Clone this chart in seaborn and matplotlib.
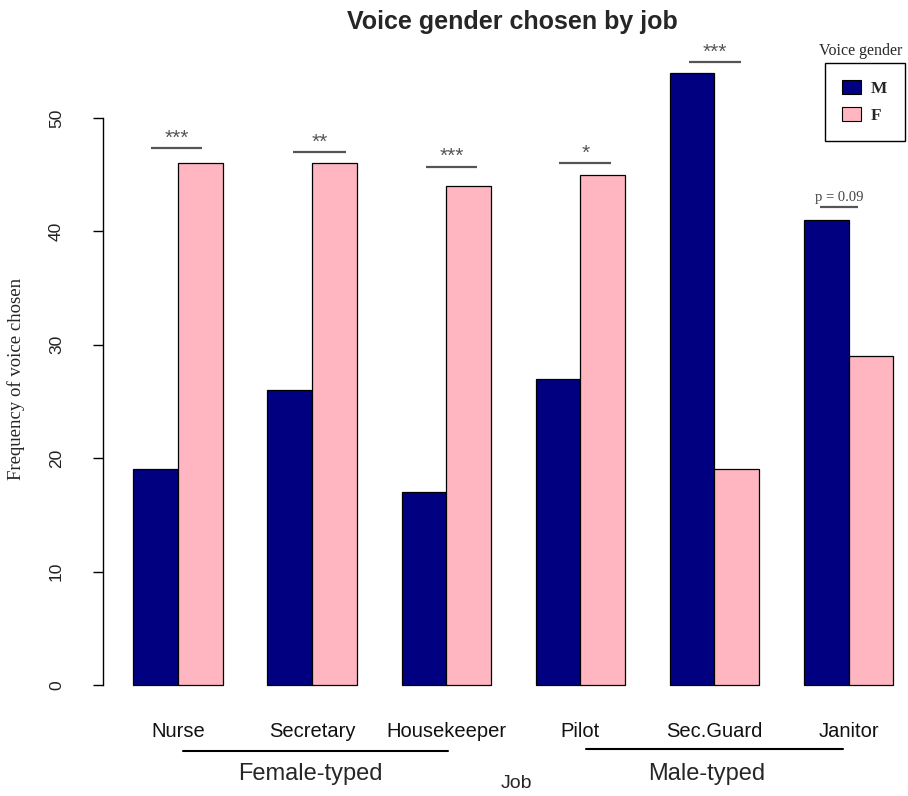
import matplotlib
matplotlib.use("Agg")
import matplotlib.pyplot as plt
from matplotlib.patches import Patch
import seaborn as sns
import pandas as pd

# ---- data ----
jobs = ["Nurse", "Secretary", "Housekeeper", "Pilot", "Sec.Guard", "Janitor"]
male_counts = [19, 26, 17, 27, 54, 41]
female_counts = [46, 46, 44, 45, 19, 29]
genders = ["M", "F"]
sig_labels = ["***", "**", "***", "*", "***", "p = 0.09"]
group_labels = ["Female-typed", "Male-typed"]
y_ticks = [0, 10, 20, 30, 40, 50]

df = pd.DataFrame({
    "job": jobs * 2,
    "gender": ["M"] * len(jobs) + ["F"] * len(jobs),
    "count": male_counts + female_counts,
})

navy = "#000080"
pink = "#FFB6C1"
palette = {"M": navy, "F": pink}

sns.set_style("white")
fig = plt.figure(figsize=(9.08, 7.96), dpi=100)
ax = fig.add_axes([103 / 908, 1 - 709.5 / 796, 805 / 908, 661.5 / 796])

sns.barplot(data=df, x="job", y="count", hue="gender", order=jobs,
            hue_order=genders, palette=palette, width=2 / 3, dodge=True,
            edgecolor="black", linewidth=0.9, saturation=1, legend=False, ax=ax)

ax.set_xlim(-0.56, 5.443)
ax.set_ylim(-2.16, 56.16)
for s in ["top", "right", "bottom"]:
    ax.spines[s].set_visible(False)
ax.spines["left"].set_bounds(0, 50)
ax.spines["left"].set_color("black")
ax.spines["left"].set_linewidth(1.0)
ax.set_yticks(y_ticks)
ax.set_yticklabels([str(v) for v in y_ticks], rotation=90, va="center",
                   family="Liberation Sans", fontsize=12.5, color="#222222")
ax.tick_params(axis="y", left=True, length=7, width=1.0, pad=21, color="black")
ax.tick_params(axis="x", bottom=False, length=0, pad=9)
ax.set_xticks(range(len(jobs)))
ax.set_xticklabels(jobs, family="Liberation Sans", fontsize=14.5, color="#111111")
ax.set_xlabel("")
ax.set_ylabel("Frequency of voice chosen", family="Liberation Serif", fontsize=13.5)
ax.yaxis.set_label_coords(-0.097, 0.5)

# significance markers
sig_offsets = [-0.01, 0.057, 0.042, 0.037, 0.006, -0.07]
sig_halfw = [0.19, 0.197, 0.19, 0.194, 0.194, 0.142]
sig_gap = [1.3, 1.0, 1.7, 1.0, 0.9, 1.1]
for i, lab in enumerate(sig_labels):
    top = max(male_counts[i], female_counts[i]) + sig_gap[i]
    c = i + sig_offsets[i]
    ax.plot([c - sig_halfw[i], c + sig_halfw[i]], [top, top], color="#555555",
            lw=1.6, clip_on=False, solid_capstyle="butt")
    if lab.startswith("p"):
        ax.text(c, top + 0.35, lab, ha="center", va="bottom",
                family="Liberation Serif", fontsize=10.5, color="#444444")
    else:
        ax.text(c, top + 0.05, lab, ha="center", va="bottom",
                family="Liberation Sans", fontsize=15, color="#555555")

# group brackets under the x labels
for g, (a, b) in enumerate([(0, 2), (3, 5)]):
    yl = -5.82 if g == 0 else -5.64
    ax.plot([a + 0.04, b + 0.016 - (0.054 if g else 0)], [yl, yl], color="black",
            lw=1.5, clip_on=False)
    ax.text((a + b) / 2 - 0.01 - (0.05 if g else 0), -7.85, group_labels[g],
            ha="center", va="center", family="Liberation Sans", fontsize=17,
            clip_on=False)
ax.text(2.52, -8.7, "Job", ha="center", va="center", family="Liberation Sans",
        fontsize=14, clip_on=False)

# title
fig.text(512 / 908, 1 - 22 / 796, "Voice gender chosen by job", ha="center",
         va="center", family="Liberation Sans", fontweight="bold", fontsize=18)

# legend
handles = [Patch(facecolor=palette[g], edgecolor="black", linewidth=0.8) for g in genders]
leg = fig.legend(handles, genders, loc="upper left",
                 bbox_to_anchor=(825 / 908, 1 - 63 / 796),
                 prop={"family": "Liberation Serif", "weight": "bold", "size": 12.5},
                 frameon=True, fancybox=False, edgecolor="black", framealpha=1,
                 handlelength=1.05, handleheight=0.85, handletextpad=0.6,
                 borderpad=1.0, labelspacing=0.55, borderaxespad=0)
leg.get_frame().set_linewidth(1.0)
fig.text(861 / 908, 1 - 51 / 796, "Voice gender", ha="center", va="center",
         family="Liberation Serif", fontsize=11.5)

fig.savefig("out.png", dpi=100)
